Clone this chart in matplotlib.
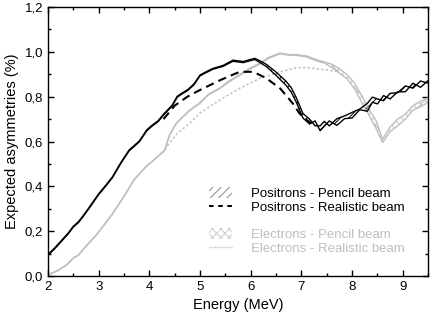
import matplotlib
matplotlib.use("Agg")
import matplotlib.pyplot as plt
from matplotlib.patches import Patch
from matplotlib.lines import Line2D

plt.rcParams['font.family'] = ['Liberation Sans', 'DejaVu Sans']

# Positrons - pencil beam (band: lower / upper edges)
pos_x = [2.0, 2.14, 2.28, 2.4, 2.5, 2.6, 2.67, 2.8, 3.0, 3.13, 3.27, 3.44, 3.6, 3.8, 3.95,
         4.05, 4.17, 4.3, 4.45, 4.55, 4.65, 4.76, 4.88, 5.0, 5.1, 5.25, 5.45, 5.65, 5.85,
         6.08, 6.2, 6.31, 6.5, 6.7, 6.8, 6.9, 7.03, 7.16, 7.27, 7.37, 7.45, 7.55, 7.7,
         7.85, 8.0, 8.15, 8.3, 8.4, 8.5, 8.62, 8.75, 8.9, 9.05, 9.2, 9.35, 9.5]
pos_lo = [0.092, 0.123, 0.158, 0.188, 0.218, 0.238, 0.258, 0.298, 0.363, 0.398, 0.438, 0.503,
          0.558, 0.598, 0.648, 0.668, 0.688, 0.723, 0.758, 0.798, 0.813, 0.828, 0.853, 0.893,
          0.905, 0.922, 0.935, 0.958, 0.952, 0.966, 0.950, 0.934, 0.895, 0.850, 0.820, 0.775,
          0.705, 0.678, 0.692, 0.648, 0.668, 0.692, 0.672, 0.702, 0.705, 0.742, 0.735, 0.775,
          0.768, 0.805, 0.790, 0.822, 0.822, 0.860, 0.842, 0.872]
pos_hi = [0.096, 0.127, 0.162, 0.192, 0.222, 0.242, 0.262, 0.302, 0.367, 0.402, 0.442, 0.507,
          0.562, 0.602, 0.652, 0.672, 0.692, 0.727, 0.762, 0.802, 0.817, 0.832, 0.857, 0.897,
          0.909, 0.926, 0.939, 0.963, 0.957, 0.971, 0.958, 0.944, 0.910, 0.868, 0.840, 0.795,
          0.725, 0.700, 0.670, 0.670, 0.690, 0.670, 0.702, 0.714, 0.730, 0.745, 0.770, 0.798,
          0.790, 0.782, 0.815, 0.818, 0.848, 0.838, 0.870, 0.860]

# Positrons - realistic beam
posr_x = [4.28, 4.5, 4.75, 5.0, 5.4, 5.78, 6.05, 6.31, 6.58, 6.83, 6.96, 7.1, 7.2]
posr_y = [0.700, 0.760, 0.800, 0.830, 0.874, 0.911, 0.911, 0.882, 0.837, 0.770, 0.726, 0.696, 0.682]

# Electrons - pencil beam (band)
ele_x = [2.0, 2.2, 2.37, 2.5, 2.6, 2.74, 2.98, 3.25, 3.5, 3.7, 3.93, 4.1, 4.3, 4.4, 4.53,
         4.66, 4.8, 4.99, 5.17, 5.39, 5.57, 5.78, 5.96, 6.18, 6.36, 6.58, 6.75, 6.9, 7.1,
         7.29, 7.45, 7.6, 7.75, 7.9, 8.05, 8.2, 8.33, 8.48, 8.6, 8.75, 8.9, 9.05, 9.2,
         9.35, 9.5]
ele_lo = [0.004, 0.024, 0.049, 0.079, 0.092, 0.129, 0.189, 0.269, 0.354, 0.429, 0.486, 0.519,
          0.559, 0.629, 0.679, 0.709, 0.739, 0.769, 0.809, 0.836, 0.866, 0.895, 0.920, 0.946,
          0.972, 0.991, 0.985, 0.984, 0.978, 0.960, 0.950, 0.930, 0.905, 0.880, 0.835, 0.770,
          0.720, 0.655, 0.595, 0.645, 0.670, 0.700, 0.740, 0.755, 0.775]
ele_hi = [0.006, 0.026, 0.051, 0.081, 0.094, 0.131, 0.191, 0.271, 0.356, 0.431, 0.488, 0.521,
          0.561, 0.631, 0.681, 0.711, 0.741, 0.772, 0.812, 0.839, 0.870, 0.899, 0.924, 0.950,
          0.976, 0.995, 0.988, 0.988, 0.982, 0.966, 0.955, 0.945, 0.925, 0.898, 0.860, 0.800,
          0.745, 0.690, 0.610, 0.665, 0.700, 0.722, 0.760, 0.780, 0.795]

# Electrons - realistic beam
eler_x = [4.3, 4.55, 4.8, 4.99, 5.39, 5.78, 6.18, 6.58, 6.9, 7.1, 7.29, 7.55, 7.7]
eler_y = [0.565, 0.636, 0.682, 0.726, 0.785, 0.837, 0.882, 0.911, 0.930, 0.930, 0.925, 0.918, 0.912]

xticks = [2, 3, 4, 5, 6, 7, 8, 9]
yticks = [0.0, 0.2, 0.4, 0.6, 0.8, 1.0, 1.2]
ytick_labels = ['0,0', '0,2', '0,4', '0,6', '0,8', '1,0', '1,2']

labels = ['Positrons - Pencil beam', 'Positrons - Realistic beam', '',
          'Electrons - Pencil beam', 'Electrons - Realistic beam']

GREY = '#bfbfbf'

fig = plt.figure(figsize=(4.36, 3.2), dpi=100)
ax = fig.add_axes([0.110, 0.1375, 0.872, 0.8405])

plt.rcParams['hatch.linewidth'] = 0.7

# electrons first (behind)
ax.fill_between(ele_x, ele_lo, ele_hi, facecolor='none', edgecolor=GREY, hatch='xxxx', linewidth=0)
ax.plot(ele_x, ele_lo, color=GREY, lw=1.0)
ax.plot(ele_x, ele_hi, color=GREY, lw=1.0)
ax.plot(eler_x, eler_y, color=GREY, lw=1.1, ls=(0, (1.5, 1.5)))

ax.fill_between(pos_x, pos_lo, pos_hi, facecolor='none', edgecolor='black', hatch='////', linewidth=0)
ax.plot(pos_x, pos_lo, color='black', lw=1.0)
ax.plot(pos_x, pos_hi, color='black', lw=1.0)
ax.plot(posr_x, posr_y, color='black', lw=1.5, ls=(0, (4, 2.5)))

ax.set_xlim(2, 9.5)
ax.set_ylim(0, 1.2)
ax.set_xticks(xticks)
ax.set_xticks([2.5, 3.5, 4.5, 5.5, 6.5, 7.5, 8.5, 9.5], minor=True)
ax.set_yticks(yticks)
ax.set_yticklabels(ytick_labels)
ax.set_yticks([0.1, 0.3, 0.5, 0.7, 0.9, 1.1], minor=True)
ax.tick_params(which='both', direction='in', top=True, right=True, labelsize=9.5, width=1.0)
ax.tick_params(which='major', length=4.5)
ax.tick_params(which='minor', length=2.5)
for s in ax.spines.values():
    s.set_linewidth(1.0)

ax.set_xlabel('Energy (MeV)', fontsize=10.5, labelpad=4)
ax.set_ylabel('Expected asymmetries (%)', fontsize=10.5, labelpad=4)

handles = [Patch(facecolor='white', edgecolor='#888888', hatch='////', lw=0),
           Line2D([], [], color='black', lw=1.5, ls=(0, (2.2, 2.2))),
           Line2D([], [], color='none'),
           Patch(facecolor='white', edgecolor='#cccccc', hatch='xxxx', lw=0),
           Line2D([], [], color=GREY, lw=1.0, ls=(0, (1, 1)))]
leg = ax.legend(handles, labels, loc='upper left', bbox_to_anchor=(0.405, 0.355),
                frameon=False, fontsize=9.5, handlelength=1.8, handleheight=0.9,
                handletextpad=1.4, labelspacing=0.05, borderpad=0)
for t, c in zip(leg.get_texts(), ['black', 'black', 'black', GREY, GREY]):
    t.set_color(c)

fig.savefig('out.png', dpi=100)
